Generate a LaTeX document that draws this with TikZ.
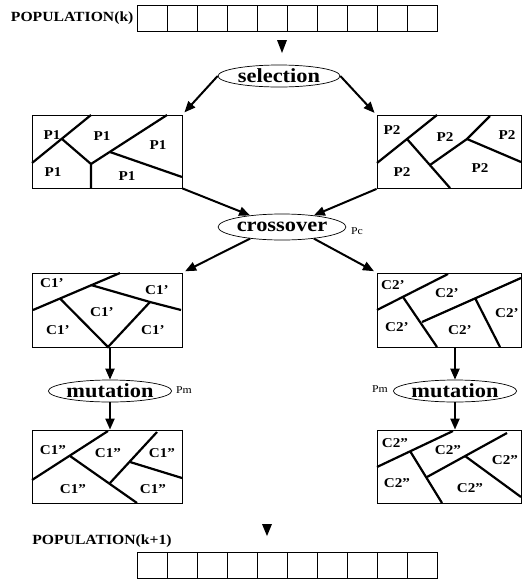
\documentclass[tikz,border=0pt]{standalone}
\usepackage{fontspec}
\setmainfont{Liberation Serif}[FakeStretch=1.12]
\usetikzlibrary{arrows.meta,shapes.geometric,calc}

\begin{document}
\begin{tikzpicture}[x=1pt, y=-1pt,
    cell/.style={draw, line width=0.6pt, minimum width=30pt, minimum height=26pt, inner sep=0pt, anchor=north west},
    chrom/.style={draw, line width=0.8pt, minimum width=150pt, minimum height=73pt, inner sep=0pt},
    op/.style={draw, ellipse, line width=0.7pt, inner sep=0pt, minimum height=22pt, font=\bfseries\fontsize{20}{20}\selectfont},
    lbl/.style={font=\bfseries\fontsize{13.5}{13.5}\selectfont},
    poplbl/.style={font=\bfseries\fontsize{14}{14}\selectfont},
    prob/.style={font=\fontsize{10.5}{10.5}\selectfont},
    cut/.style={line width=2.2pt},
    arr/.style={line width=2pt, -{Triangle[length=11pt,width=9pt]}}]
    \useasboundingbox (0,0) rectangle (523,579);

    % Population k
    \foreach \i in {1,...,10}
        \node[cell] (k\i) at (107+30*\i,5) {};
    \node[poplbl, left] (popk) at (k1.west) {POPULATION(k)};
    \fill (277,40) -- (287,40) -- (282,53) -- cycle;

    % Selection
    \node[op, minimum width=122pt] (sel) at (279,76) {selection};

    % Parent 1
    \node[chrom] (p1) at (107,151.5) {};
    \draw[cut] (91,115) -- (32,163);
    \draw[cut] (62,139) -- (91,164) -- (91,188);
    \draw[cut] (91,164) -- (167,115);
    \draw[cut] (110,152) -- (182,177);
    \node[lbl] (p1a) at (52,135) {P1};
    \node[lbl] (p1b) at (102,136) {P1};
    \node[lbl] (p1c) at (158,145) {P1};
    \node[lbl] (p1d) at (53,172) {P1};
    \node[lbl] (p1e) at (127,176) {P1};

    % Parent 2
    \node[chrom, minimum width=144pt] (p2) at (449,152) {};
    \draw[cut] (437,115) -- (377,163);
    \draw[cut] (407,139) -- (450,188);
    \draw[cut] (430,165) -- (467,139) -- (490,116);
    \draw[cut] (467,139) -- (521,162);
    \node[lbl] (p2a) at (392,130) {P2};
    \node[lbl] (p2b) at (445,137) {P2};
    \node[lbl] (p2c) at (507,135) {P2};
    \node[lbl] (p2d) at (402,172) {P2};
    \node[lbl] (p2e) at (480,168) {P2};

    \draw[arr, shorten >=3pt] (sel.west) -- (p1.north east);
    \draw[arr, shorten >=3pt] (sel.east) -- (p2.north west);

    % Crossover
    \node[op, minimum width=120pt, minimum height=26pt] (cross) at (282,227) {crossover};
    \node[prob] (pc) at (357,231) {Pc};
    \draw[arr] (p1.south east) -- (cross.160);
    \draw[arr] (p2.south west) -- (cross.20);

    % Child 1'
    \node[chrom, minimum height=74pt] (c1) at (107,310) {};
    \draw[cut] (33,310) -- (120,273);
    \draw[cut] (91,285) -- (150,302) -- (181,310);
    \draw[cut] (60,298.5) -- (108,347) -- (150,302);
    \node[lbl] (c1a) at (52,283) {C1'};
    \node[lbl] (c1b) at (157,290) {C1'};
    \node[lbl] (c1c) at (102,312) {C1'};
    \node[lbl] (c1d) at (58,330) {C1'};
    \node[lbl] (c1e) at (153,330) {C1'};

    % Child 2'
    \node[chrom, minimum width=144pt, minimum height=74pt] (c2) at (449,310) {};
    \draw[cut] (377,310) -- (448,274);
    \draw[cut] (403,297) -- (437,347);
    \draw[cut] (422,322) -- (521,278);
    \draw[cut] (475,298) -- (500,347);
    \node[lbl] (c2a) at (393,285) {C2'};
    \node[lbl] (c2b) at (447,293) {C2'};
    \node[lbl] (c2c) at (507,313) {C2'};
    \node[lbl] (c2d) at (397,327) {C2'};
    \node[lbl] (c2e) at (460,330) {C2'};

    \draw[arr, shorten >=3pt] (cross.200) -- (c1.north east);
    \draw[arr, shorten >=3pt] (cross.340) -- (c2.north west);

    % Mutation
    \node[op, minimum width=120pt] (mut1) at (110,391) {mutation};
    \node[prob] (pm1) at (184,390) {Pm};
    \node[op, minimum width=115pt] (mut2) at (455,391) {mutation};
    \node[prob] (pm2) at (380,389) {Pm};
    \draw[arr] (mut1.north |- c1.south) -- (mut1.north);
    \draw[arr] (mut2.north |- c2.south) -- (mut2.north);

    % Child 1''
    \node[chrom] (c1pp) at (107,466.5) {};
    \draw[cut] (108,431) -- (32,480);
    \draw[cut] (70,456) -- (137,503);
    \draw[cut] (157,432) -- (110,483);
    \draw[cut] (130,462) -- (182,478);
    \node[lbl] (c1ppa) at (53,450) {C1''};
    \node[lbl] (c1ppb) at (108,453) {C1''};
    \node[lbl] (c1ppc) at (162,453) {C1''};
    \node[lbl] (c1ppd) at (73,489) {C1''};
    \node[lbl] (c1ppe) at (153,489) {C1''};

    % Child 2''
    \node[chrom, minimum width=144pt] (c2pp) at (449,466.5) {};
    \draw[cut] (453,431) -- (377,467);
    \draw[cut] (410,451) -- (442,503);
    \draw[cut] (427,477) -- (507,433);
    \draw[cut] (465,456) -- (521,497);
    \node[lbl] (c2ppa) at (395,443) {C2''};
    \node[lbl] (c2ppb) at (448,450) {C2''};
    \node[lbl] (c2ppc) at (505,460) {C2''};
    \node[lbl] (c2ppd) at (397,483) {C2''};
    \node[lbl] (c2ppe) at (470,488) {C2''};

    \draw[arr] (mut1.south) -- (mut1.south |- c1pp.north);
    \draw[arr] (mut2.south) -- (mut2.south |- c2pp.north);

    % Population k+1
    \fill (262,524) -- (272,524) -- (267,536) -- cycle;
    \node[poplbl] (popk1) at (102,541) {POPULATION(k+1)};
    \foreach \i in {1,...,10}
        \node[cell] (m\i) at (107+30*\i,552) {};
\end{tikzpicture}
\end{document}
